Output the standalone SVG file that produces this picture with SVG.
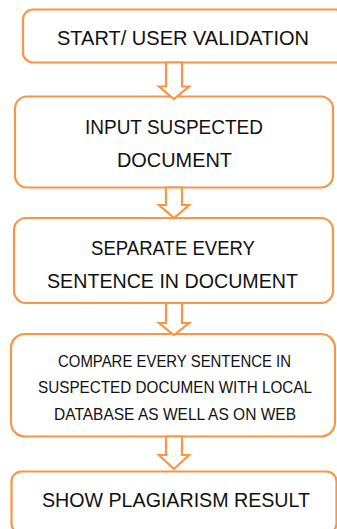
<svg xmlns="http://www.w3.org/2000/svg" width="337" height="529" viewBox="0 0 337 529">
<style>
.box{fill:#fff;stroke:#F79646;stroke-width:2.2}
.arr{fill:#fff;stroke:#F79646;stroke-width:2.2;stroke-linejoin:miter}
.t{font-family:"Liberation Sans",Arial,sans-serif;font-size:20.5px;fill:#111;text-anchor:middle}
.s{font-family:"Liberation Sans",Arial,sans-serif;font-size:16.2px;fill:#111;text-anchor:middle}
</style>
<rect width="337" height="529" fill="#fff"/>
<g id="n1">
<rect class="box" x="23" y="9.5" width="322" height="53" rx="10"/>
<text class="t" x="183" y="45" textLength="252" lengthAdjust="spacingAndGlyphs">START/ USER VALIDATION</text>
</g>
<g id="n2">
<rect class="box" x="15" y="96.5" width="318" height="91" rx="12"/>
<text class="t" x="174" y="134" textLength="178" lengthAdjust="spacingAndGlyphs">INPUT SUSPECTED</text>
<text class="t" x="174.5" y="167" textLength="115" lengthAdjust="spacingAndGlyphs">DOCUMENT</text>
</g>
<g id="n3">
<rect class="box" x="14" y="218" width="319" height="85" rx="12"/>
<text class="t" x="173" y="255" textLength="164" lengthAdjust="spacingAndGlyphs">SEPARATE EVERY</text>
<text class="t" x="172.5" y="288" textLength="251" lengthAdjust="spacingAndGlyphs">SENTENCE IN DOCUMENT</text>
</g>
<g id="n4">
<rect class="box" x="11" y="334" width="324" height="102.5" rx="14"/>
<text class="s" x="174.5" y="366.7" textLength="233" lengthAdjust="spacingAndGlyphs">COMPARE EVERY SENTENCE IN</text>
<text class="s" x="175" y="393.3" textLength="274" lengthAdjust="spacingAndGlyphs">SUSPECTED DOCUMEN WITH LOCAL</text>
<text class="s" x="175" y="420" textLength="242" lengthAdjust="spacingAndGlyphs">DATABASE AS WELL AS ON WEB</text>
</g>
<g id="n5">
<rect class="box" x="11.5" y="471.5" width="325" height="62" rx="10"/>
<text class="t" x="176" y="506.7" textLength="268" lengthAdjust="spacingAndGlyphs">SHOW PLAGIARISM RESULT</text>
</g>
<g id="connectors">
<path class="arr" d="M166,62.5 L182,62.5 L182,86.5 L189,86.5 L174,99 L159,86.5 L166,86.5 Z"/>
<path class="arr" d="M166,187.5 L182,187.5 L182,205 L189,205 L174,218 L159,205 L166,205 Z"/>
<path class="arr" d="M166,303 L182,303 L182,323 L189,323 L174,335 L159,323 L166,323 Z"/>
<path class="arr" d="M166,436.5 L182,436.5 L182,455 L189,455 L174,469 L159,455 L166,455 Z"/>
</g>
</svg>
